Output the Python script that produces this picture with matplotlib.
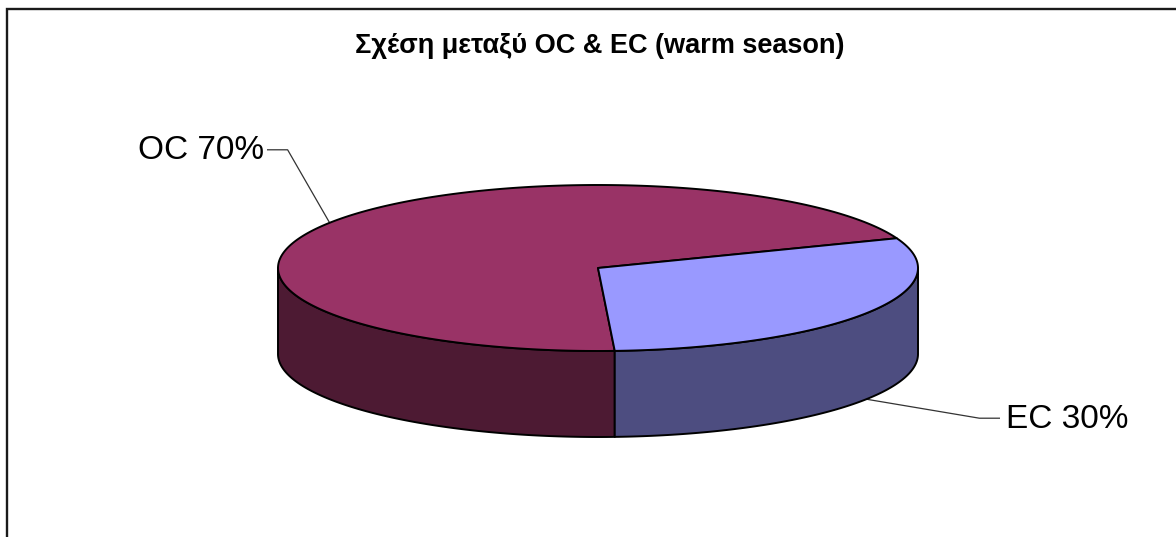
import numpy as np
import matplotlib.pyplot as plt
from matplotlib.patches import Polygon

plt.rcParams["font.family"] = ["Liberation Sans", "DejaVu Sans"]

# data
labels = ["OC", "EC"]
values = [70, 30]
top_colors = ["#993366", "#9999FF"]
side_colors = ["#4D1A33", "#4D4D80"]
title = "Σχέση μεταξύ OC & EC (warm season)"

# pie geometry (pixels)
W, H = 1176, 537
cx, cy = 598, 268
rx, ry = 320, 83
depth = 86
start_angle = 21.0


def rim(theta_deg, dz=0.0):
    t = np.radians(theta_deg)
    return np.column_stack([cx + rx * np.cos(t), cy - ry * np.sin(t) + dz])


fig = plt.figure(figsize=(W / 100, H / 100), dpi=100)
ax = fig.add_axes([0, 0, 1, 1])
ax.set_xlim(0, W)
ax.set_ylim(H, 0)
ax.axis("off")

fracs = np.array(values, dtype=float) / sum(values)
bounds = start_angle + 360 * np.concatenate([[0], np.cumsum(fracs)])

# side walls (front half only: 180..360 deg)
for i in range(len(values)):
    a, b = bounds[i], bounds[i + 1]
    for lo, hi in [(180, 360), (540, 720)]:
        s, e = max(a, lo), min(b, hi)
        if e <= s:
            continue
        th = np.linspace(s, e, 120)
        pts = np.vstack([rim(th), rim(th[::-1], depth)])
        ax.add_patch(Polygon(pts, closed=True, fc=side_colors[i],
                             ec="black", lw=1.4, joinstyle="round", zorder=2))

# top faces
for i in range(len(values)):
    th = np.linspace(bounds[i], bounds[i + 1], 240)
    pts = np.vstack([[cx, cy], rim(th)])
    ax.add_patch(Polygon(pts, closed=True, fc=top_colors[i],
                         ec="black", lw=1.4, joinstyle="round", zorder=3))

# labels with leader lines
label_offsets = [(-42, -73, -20), (113, 19, 20)]
for i in range(len(values)):
    mid = (bounds[i] + bounds[i + 1]) / 2
    m = mid % 360
    dz = depth if 180 < m < 360 else 0
    ax_, ay_ = rim(mid, dz)[0]
    ox, oy, hl = label_offsets[i]
    ex, ey = ax_ + ox, ay_ + oy
    ax.plot([ax_, ex, ex + hl], [ay_, ey, ey], color="#333333", lw=0.9,
            zorder=1)
    ha = "right" if hl < 0 else "left"
    tx = ex + hl + (-4 if hl < 0 else 7)
    ax.text(tx, ey + 1, f"{labels[i]} {values[i]:.0f}%", ha=ha, va="center",
            fontsize=24, color="black")

ax.text(600, 46, title, ha="center", va="center", fontsize=19.5,
        fontweight="bold")

# chart area frame
ax.plot([7, 7, W + 5], [H + 5, 9, 9], color="#1a1a1a", lw=1.7,
        solid_joinstyle="miter", clip_on=False)

fig.savefig("out.png", dpi=100)
